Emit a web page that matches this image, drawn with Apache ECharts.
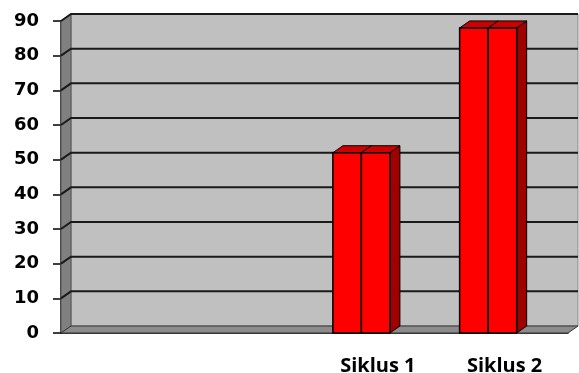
<!DOCTYPE html>
<html>
<head>
<meta charset="utf-8">
<script src="https://cdn.jsdelivr.net/npm/echarts@6/dist/echarts.min.js"></script>
<style>
  html, body { margin: 0; padding: 0; background: #fff; }
  #chart { width: 579px; height: 373px; }
</style>
</head>
<body>
<div id="chart"></div>
<script>
// data
var categories = ['', '', 'Siklus 1', 'Siklus 2'];
var seriesA = [null, null, 52, 88];
var seriesB = [null, null, 52, 88];
var yTicks = [0, 10, 20, 30, 40, 50, 60, 70, 80, 90];

// fake 3d depth, in pixels
var DX = 10, DY = -7;

var chart = echarts.init(document.getElementById('chart'));

// back wall, side wall, floor and the grid lines
function renderFrame(params, api) {
  var cs = params.coordSys;
  var x0 = cs.x, x1 = cs.x + cs.width;
  var yb = api.coord([0, 0])[1];
  var yt = api.coord([0, 90])[1];
  var kids = [];
  kids.push({
    type: 'rect',
    shape: { x: x0 + DX, y: yt + DY, width: x1 - x0, height: yb - yt },
    style: { fill: '#c0c0c0', stroke: '#8a8a8a', lineWidth: 1 }
  });
  kids.push({
    type: 'polygon',
    shape: { points: [[x0, yt], [x0 + DX, yt + DY], [x0 + DX, yb + DY], [x0, yb]] },
    style: { fill: '#808080', stroke: '#555', lineWidth: 1 }
  });
  kids.push({
    type: 'polygon',
    shape: { points: [[x0, yb], [x0 + DX, yb + DY], [x1 + DX, yb + DY], [x1, yb]] },
    style: { fill: '#8c8c8c', stroke: '#333', lineWidth: 1 }
  });
  yTicks.forEach(function (v) {
    if (v === 0) return;
    var y = api.coord([0, v])[1];
    kids.push({
      type: 'polyline',
      shape: { points: [[x0, y], [x0 + DX, y + DY], [x1 + DX, y + DY]] },
      style: { stroke: '#1a1a1a', lineWidth: 2, fill: null }
    });
  });
  return { type: 'group', children: kids };
}

// one 3d bar; idx = position inside the pair
function barRenderer(idx) {
  return function (params, api) {
    var v = api.value(1);
    if (v == null || isNaN(v)) return;
    var top = api.coord([api.value(0), v]);
    var bot = api.coord([api.value(0), 0]);
    var band = api.size([1, 0])[0];
    var w = band * 0.225;
    var l = top[0] - band * 0.355 + idx * w;
    var r = l + w;
    var yt = top[1], yb = bot[1];
    return {
      type: 'group',
      children: [
        {
          type: 'polygon',
          shape: { points: [[r, yt], [r + DX, yt + DY], [r + DX, yb + DY], [r, yb]] },
          style: { fill: '#a00000', stroke: '#000', lineWidth: 1 }
        },
        {
          type: 'polygon',
          shape: { points: [[l, yt], [l + DX, yt + DY], [r + DX, yt + DY], [r, yt]] },
          style: { fill: '#cc0000', stroke: '#000', lineWidth: 1 }
        },
        {
          type: 'rect',
          shape: { x: l, y: yt, width: w, height: yb - yt },
          style: { fill: '#ff0000', stroke: '#000', lineWidth: 1.5 }
        }
      ]
    };
  };
}

function toPairs(arr) {
  return arr.map(function (v, i) { return [i, v]; });
}

chart.setOption({
  animation: false,
  grid: { left: 61, right: 11, top: 21, bottom: 40, outerBoundsMode: 'none', containLabel: false },
  xAxis: {
    type: 'category',
    data: categories,
    axisLine: { lineStyle: { color: '#000', width: 1.5 } },
    axisTick: { length: 7, lineStyle: { color: '#000', width: 1.5 } },
    axisLabel: {
      margin: 23,
      color: '#000',
      fontFamily: 'Open Sans',
      fontWeight: 'bold',
      fontSize: 20
    }
  },
  yAxis: {
    type: 'value',
    min: 0,
    max: 90,
    interval: 10,
    splitLine: { show: false },
    axisLine: { show: true, lineStyle: { color: '#000', width: 1.5 } },
    axisTick: { show: true, length: 8, lineStyle: { color: '#000', width: 1.5 } },
    axisLabel: {
      margin: 22,
      color: '#000',
      fontFamily: 'DejaVu Sans',
      fontWeight: 'bold',
      fontSize: 18
    }
  },
  series: [
    {
      type: 'custom',
      data: [[0, 0]],
      encode: { x: 0, y: 1 },
      renderItem: renderFrame,
      silent: true,
      z: 1
    },
    {
      type: 'custom',
      data: toPairs(seriesA),
      encode: { x: 0, y: 1 },
      renderItem: barRenderer(0),
      z: 2
    },
    {
      type: 'custom',
      data: toPairs(seriesB),
      encode: { x: 0, y: 1 },
      renderItem: barRenderer(1),
      z: 3
    }
  ]
});
</script>
</body>
</html>
